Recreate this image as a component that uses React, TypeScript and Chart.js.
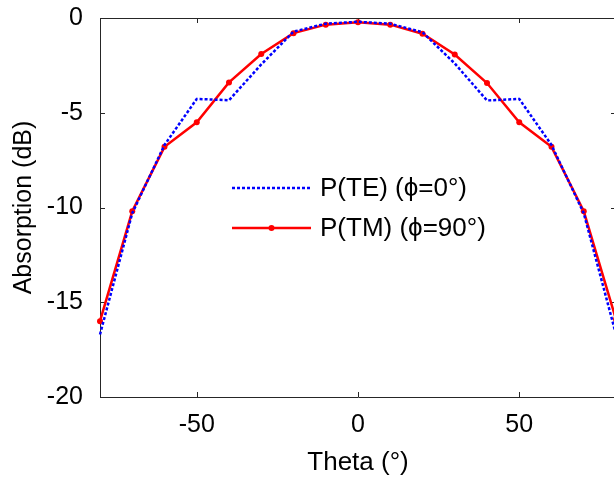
import React, { useEffect, useRef } from 'react';
import { Chart, registerables } from 'chart.js';

Chart.register(...registerables);

const theta = [-80, -70, -60, -50, -40, -30, -20, -10, 0, 10, 20, 30, 40, 50, 60, 70, 80];
const teValues = [-16.7, -10.3, -6.7, -4.27, -4.34, -2.45, -0.72, -0.3, -0.2, -0.3, -0.75, -2.4, -4.35, -4.27, -6.7, -10.3, -16.7];
const tmValues = [-16.0, -10.2, -6.8, -5.5, -3.4, -1.9, -0.8, -0.35, -0.23, -0.35, -0.83, -1.93, -3.43, -5.5, -6.8, -10.2, -15.9];
const xTicks = [-50, 0, 50];
const yTicks = [-20, -15, -10, -5, 0];
const teLabel = 'P(TE) (\u03d5=0\u00b0)';
const tmLabel = 'P(TM) (\u03d5=90\u00b0)';
const xTitle = 'Theta (\u00b0)';
const yTitle = 'Absorption (dB)';

const FONT = "'Liberation Sans', Arial, sans-serif";
const FS = 25;
const BLUE = '#0000ff';
const RED = '#ff0000';
const AXIS = '#262626';

const framePlugin = {
  id: 'frame',
  beforeDatasetsDraw(chart: any) {
    const { ctx, chartArea, scales } = chart;
    const { left, right, top, bottom } = chartArea;
    ctx.save();
    ctx.strokeStyle = AXIS;
    ctx.lineWidth = 1;
    ctx.beginPath();
    ctx.rect(Math.round(left) + 0.5, Math.round(top) + 0.5, Math.round(right - left), Math.round(bottom - top));
    const tl = 5;
    xTicks.forEach((v) => {
      const px = Math.round(scales.x.getPixelForValue(v)) + 0.5;
      ctx.moveTo(px, bottom);
      ctx.lineTo(px, bottom - tl);
      ctx.moveTo(px, top);
      ctx.lineTo(px, top + tl);
    });
    yTicks.forEach((v) => {
      const py = Math.round(scales.y.getPixelForValue(v)) + 0.5;
      ctx.moveTo(left, py);
      ctx.lineTo(left + tl, py);
      ctx.moveTo(right, py);
      ctx.lineTo(right - tl, py);
    });
    ctx.stroke();
    ctx.restore();
  },
};

const legendPlugin = {
  id: 'customLegend',
  afterDraw(chart: any) {
    const { ctx, chartArea } = chart;
    const x0 = chartArea.left + 132;
    const x1 = chartArea.left + 211;
    const tx = chartArea.left + 220;
    const y1 = chartArea.top + 170;
    const y2 = chartArea.top + 210;
    ctx.save();
    ctx.lineWidth = 2.5;
    ctx.strokeStyle = BLUE;
    ctx.setLineDash([3, 2]);
    ctx.beginPath();
    ctx.moveTo(x0, y1);
    ctx.lineTo(x1, y1);
    ctx.stroke();
    ctx.setLineDash([]);
    ctx.strokeStyle = RED;
    ctx.beginPath();
    ctx.moveTo(x0, y2);
    ctx.lineTo(x1, y2);
    ctx.stroke();
    ctx.fillStyle = RED;
    ctx.beginPath();
    ctx.arc((x0 + x1) / 2, y2, 3, 0, Math.PI * 2);
    ctx.fill();
    ctx.fillStyle = '#000';
    ctx.font = `26px ${FONT}`;
    ctx.textBaseline = 'middle';
    ctx.textAlign = 'left';
    ctx.fillText(teLabel, tx, y1 + 1);
    ctx.fillText(tmLabel, tx, y2 + 1);
    ctx.restore();
  },
};

export default function App() {
  const ref = useRef<HTMLCanvasElement | null>(null);
  useEffect(() => {
    document.body.style.margin = '0';
    const canvas = ref.current;
    if (!canvas) return;
    const chart = new Chart(canvas, {
      type: 'line',
      data: {
        datasets: [
          {
            label: teLabel,
            data: theta.map((t, i) => ({ x: t, y: teValues[i] })),
            borderColor: BLUE,
            backgroundColor: BLUE,
            borderWidth: 2.5,
            borderDash: [3, 2],
            pointRadius: 0,
            tension: 0,
            clip: false as any,
          },
          {
            label: tmLabel,
            data: theta.map((t, i) => ({ x: t, y: tmValues[i] })),
            borderColor: RED,
            backgroundColor: RED,
            borderWidth: 2.5,
            pointRadius: 3,
            pointBorderWidth: 0,
            pointBackgroundColor: RED,
            tension: 0,
            clip: false as any,
          },
        ],
      },
      options: {
        responsive: false,
        animation: false,
        devicePixelRatio: 1,
        layout: { padding: { left: 0, right: 24, top: 18, bottom: 0 } },
        plugins: { legend: { display: false }, tooltip: { enabled: false } },
        scales: {
          x: {
            type: 'linear',
            min: -80,
            max: 80,
            grid: { display: false },
            border: { display: false },
            afterBuildTicks: (s: any) => {
              s.ticks = xTicks.map((v) => ({ value: v }));
            },
            afterFit: (s: any) => {
              s.height = 81;
            },
            ticks: {
              color: '#000',
              font: { family: FONT, size: FS },
              padding: 5,
              maxRotation: 0,
            },
            title: {
              display: true,
              text: xTitle,
              color: '#000',
              font: { family: FONT, size: 26 },
              padding: { top: 0, bottom: 0 },
            },
          },
          y: {
            type: 'linear',
            min: -20,
            max: 0,
            grid: { display: false },
            border: { display: false },
            afterBuildTicks: (s: any) => {
              s.ticks = yTicks.map((v) => ({ value: v }));
            },
            afterFit: (s: any) => {
              s.width = 100;
              s.paddingTop = 0;
              s.paddingBottom = 0;
            },
            ticks: {
              color: '#000',
              font: { family: FONT, size: FS, lineHeight: 0.8 },
              padding: 9,
            },
            title: {
              display: true,
              text: yTitle,
              color: '#000',
              font: { family: FONT, size: 25 },
              padding: { top: 9, bottom: 0 },
            },
          },
        },
      },
      plugins: [framePlugin, legendPlugin],
    });
    return () => chart.destroy();
  }, []);
  return (
    <div style={{ position: 'absolute', left: 0, top: 0, width: 614, height: 478, overflow: 'hidden', background: '#fff' }}>
      <canvas ref={ref} width={640} height={478} style={{ width: 640, height: 478, display: 'block' }} />
    </div>
  );
}
